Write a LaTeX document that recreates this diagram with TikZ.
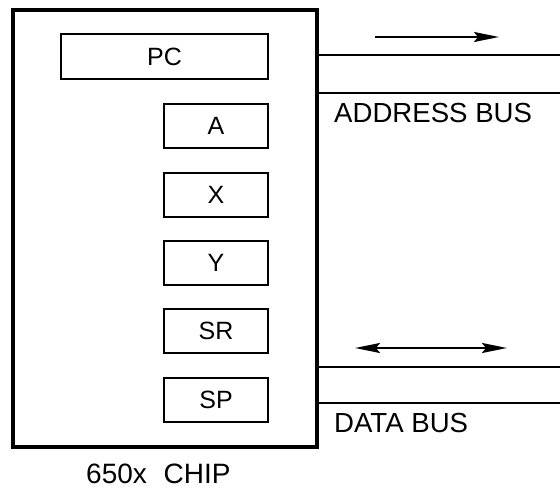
\documentclass[tikz,border=0pt]{standalone}
\usepackage{fontspec}
\setmainfont{Liberation Sans}
\usepackage{tikz}
\usetikzlibrary{arrows.meta}

\begin{document}
\begin{tikzpicture}[x=1pt, y=-1pt,
    reg/.style={draw, line width=2.6pt, minimum width=104pt, minimum height=44pt, inner sep=0pt, font=\fontsize{25}{30}\selectfont},
    bus/.style={line width=2.6pt},
    tip/.tip={Stealth[length=25pt, width=10pt, inset=4pt]},
    dir/.style={line width=2pt, -tip},
    lbl/.style={anchor=base west, inner sep=0pt, font=\fontsize{27.6}{32}\selectfont}]
    \useasboundingbox (0,0) rectangle (560,489);
    \node[draw, line width=4pt, minimum width=304pt, minimum height=437pt, inner sep=0pt] (chip) at (165,228.5) {};
    \node[reg, minimum width=207pt, minimum height=45pt] (pc) at (164.5,56.5) {PC};
    \node[reg] (a) at (216,126) {A};
    \node[reg] (x) at (216,195) {X};
    \node[reg] (y) at (216,263) {Y};
    \node[reg] (sr) at (216,331) {SR};
    \node[reg] (sp) at (216,400) {SP};
    \coordinate (abtop) at (560,55);
    \coordinate (abbot) at (560,93);
    \coordinate (dbtop) at (560,367);
    \coordinate (dbbot) at (560,403);
    \draw[bus] (chip.east |- abtop) -- (abtop);
    \draw[bus] (chip.east |- abbot) -- (abbot);
    \draw[bus] (chip.east |- dbtop) -- (dbtop);
    \draw[bus] (chip.east |- dbbot) -- (dbbot);
    \coordinate (aa1) at (375,37);
    \coordinate (aa2) at (499,37);
    \coordinate (da1) at (355,348);
    \coordinate (da2) at (507,348);
    \draw[dir] (aa1) -- (aa2);
    \draw[dir, tip-tip] (da1) -- (da2);
    \node[lbl] (abus) at (334,123) {ADDRESS BUS};
    \node[lbl] (dbus) at (334,432) {DATA BUS};
    \node[lbl, font=\fontsize{28}{32}\selectfont] (chipname) at (86,483) {650x\hspace{0.6em}CHIP};
\end{tikzpicture}
\end{document}
